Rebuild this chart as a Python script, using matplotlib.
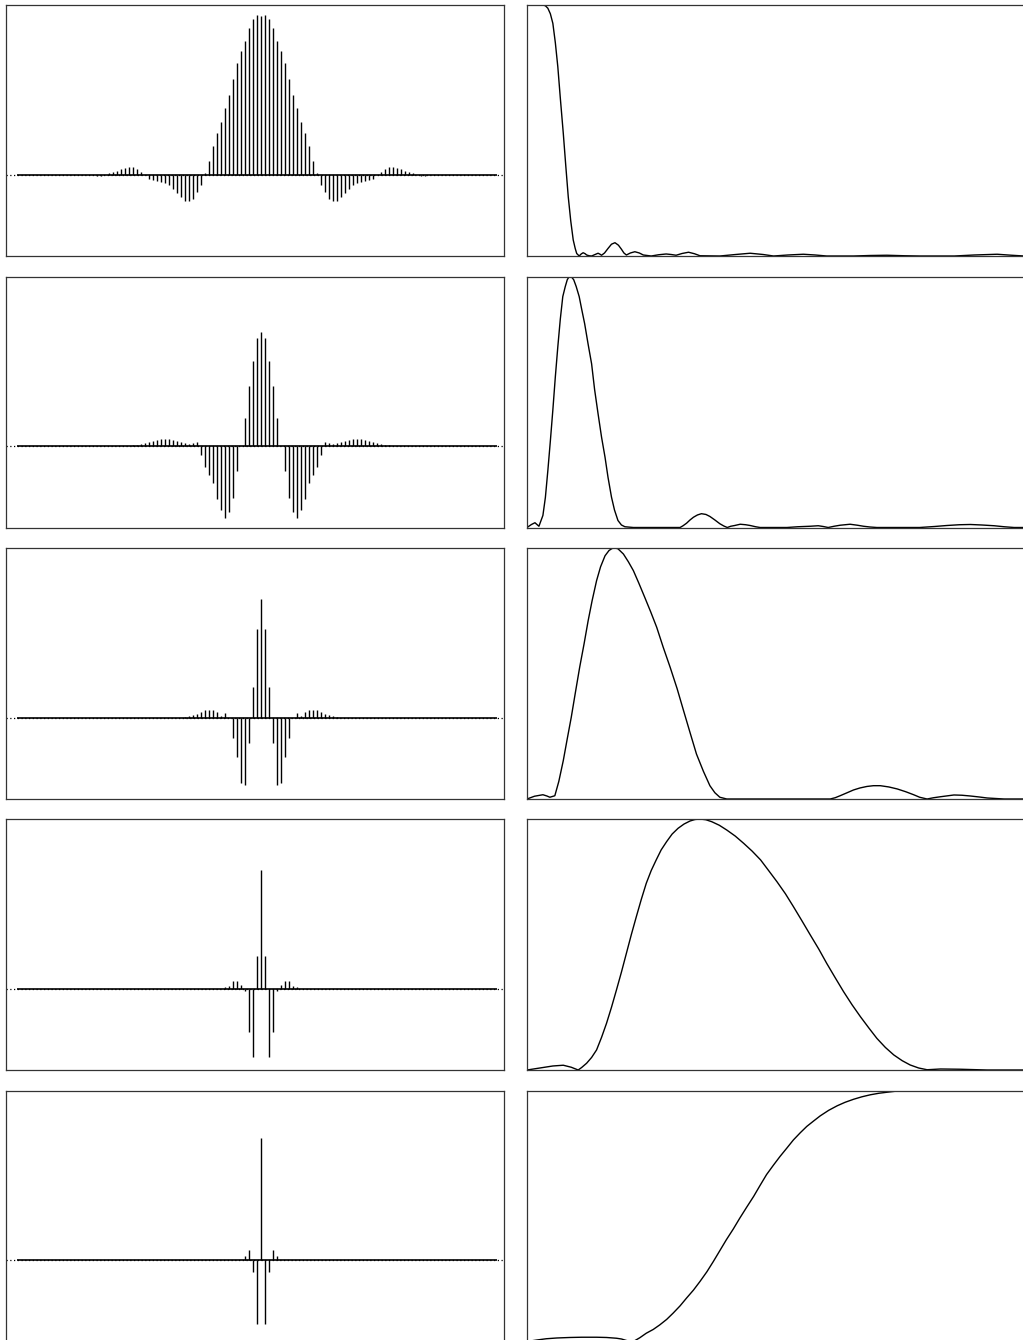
import numpy as np
import matplotlib
matplotlib.use("Agg")
import matplotlib.pyplot as plt

# ---- filter taps (left column), listed from k=-K..K around the centre tap ----
taps1 = [-0.004, -0.006, -0.006, 0.0, 0.008, 0.017, 0.025, 0.033, 0.042, 0.046, 0.046,
         0.033, 0.017, 0.0, -0.027, -0.033, -0.038, -0.044, -0.052, -0.065, -0.09,
         -0.117, -0.138, -0.163, -0.163, -0.153, -0.111, -0.065, 0.008, 0.086, 0.182,
         0.259, 0.332, 0.415, 0.499, 0.599, 0.697, 0.775, 0.837, 0.919, 0.973, 1.0,
         0.996,
         1.0, 0.973, 0.919, 0.837, 0.775, 0.697, 0.599, 0.499, 0.415, 0.332, 0.259,
         0.182, 0.086, 0.008, -0.065, -0.111, -0.153, -0.163, -0.163, -0.138, -0.117,
         -0.09, -0.065, -0.052, -0.044, -0.038, -0.033, -0.027, 0.0, 0.017, 0.033,
         0.046, 0.046, 0.042, 0.033, 0.025, 0.017, 0.008, 0.0, -0.006, -0.006, -0.004]

taps2 = [0.002, 0.003, 0.006, 0.01, 0.013, 0.02, 0.027, 0.035, 0.04, 0.044, 0.044,
         0.044, 0.04, 0.035, 0.027, 0.02, 0.013, 0.023, 0.025, -0.054, -0.127, -0.18,
         -0.232, -0.332, -0.399, -0.447, -0.415, -0.326, -0.157, 0.0, 0.177, 0.376,
         0.534, 0.676,
         0.714,
         0.676, 0.534, 0.376, 0.177, 0.0, -0.157, -0.326, -0.415, -0.447, -0.399,
         -0.332, -0.232, -0.18, -0.127, -0.054, 0.025, 0.023, 0.013, 0.02, 0.027,
         0.035, 0.04, 0.044, 0.044, 0.044, 0.04, 0.035, 0.027, 0.02, 0.013, 0.01,
         0.006, 0.003, 0.002]

taps3 = [0.003, 0.01, 0.015, 0.021, 0.033, 0.046, 0.05, 0.046, 0.035, 0.01, 0.027,
         0.0, -0.125, -0.244, -0.407, -0.424, -0.161, 0.19, 0.557,
         0.741,
         0.557, 0.19, -0.161, -0.424, -0.407, -0.244, -0.125, 0.0, 0.027, 0.01,
         0.035, 0.046, 0.05, 0.046, 0.033, 0.021, 0.015, 0.01, 0.003]

taps4 = [0.008, 0.017, 0.046, 0.046, 0.021, -0.015, -0.273, -0.426, 0.202,
         0.741,
         0.202, -0.426, -0.273, -0.015, 0.021, 0.046, 0.046, 0.017, 0.008]

taps5 = [0.029, 0.061, -0.075, -0.401,
         0.764,
         -0.401, -0.075, 0.061, 0.029]

left_taps = [taps1, taps2, taps3, taps4, taps5]
n_first, n_last = -61, 59

# ---- magnitude responses (right column): (fraction of Nyquist, |H|) ----
resp1 = [(0, 1), (0.032, 1), (0.037, 0.997), (0.042, 0.987), (0.047, 0.965),
         (0.052, 0.927), (0.057, 0.85), (0.062, 0.754), (0.067, 0.63), (0.073, 0.489),
         (0.078, 0.36), (0.083, 0.236), (0.088, 0.14), (0.093, 0.064), (0.097, 0.03),
         (0.1, 0.01), (0.105, 0), (0.109, 0.008), (0.113, 0.013), (0.117, 0.009),
         (0.12, 0.004), (0.125, 0.001), (0.13, 0), (0.137, 0.006), (0.143, 0.011),
         (0.147, 0.007), (0.15, 0.003), (0.156, 0.012), (0.163, 0.03), (0.17, 0.047),
         (0.177, 0.053), (0.184, 0.043), (0.19, 0.027), (0.195, 0.012), (0.2, 0.004),
         (0.208, 0.012), (0.217, 0.017), (0.226, 0.012), (0.234, 0.004), (0.25, 0),
         (0.265, 0.005), (0.28, 0.008), (0.29, 0.006), (0.3, 0.003), (0.312, 0.01),
         (0.325, 0.015), (0.337, 0.009), (0.348, 0.001), (0.388, 0), (0.42, 0.006),
         (0.449, 0.011), (0.475, 0.006), (0.496, 0), (0.525, 0.004), (0.556, 0.007),
         (0.58, 0.004), (0.603, 0), (0.657, 0), (0.69, 0.002), (0.724, 0.003),
         (0.76, 0.001), (0.79, 0), (0.86, 0), (0.9, 0.004), (0.946, 0.007),
         (0.975, 0.003), (1.0, 0)]

resp2 = [(0, 0), (0.009, 0.012), (0.016, 0.019), (0.024, 0.005), (0.032, 0.048),
         (0.037, 0.12), (0.042, 0.228), (0.047, 0.345), (0.052, 0.468), (0.057, 0.6),
         (0.062, 0.72), (0.067, 0.83), (0.072, 0.92), (0.077, 0.96), (0.081, 0.987),
         (0.084, 0.997), (0.087, 1.0), (0.09, 0.997), (0.094, 0.987), (0.099, 0.96),
         (0.105, 0.92), (0.11, 0.87), (0.116, 0.812), (0.123, 0.73), (0.13, 0.652),
         (0.136, 0.55), (0.143, 0.453), (0.15, 0.36), (0.157, 0.28), (0.163, 0.2),
         (0.17, 0.121), (0.176, 0.07), (0.183, 0.028), (0.19, 0.01), (0.197, 0.003),
         (0.214, 0), (0.308, 0), (0.314, 0.007), (0.321, 0.017), (0.328, 0.03),
         (0.335, 0.041), (0.343, 0.05), (0.351, 0.055), (0.36, 0.052), (0.368, 0.044),
         (0.378, 0.03), (0.388, 0.015), (0.396, 0.006), (0.403, 0), (0.41, 0.005),
         (0.418, 0.008), (0.429, 0.013), (0.44, 0.011), (0.449, 0.008), (0.46, 0.003),
         (0.469, 0), (0.523, 0), (0.545, 0.003), (0.57, 0.005), (0.586, 0.007),
         (0.596, 0.004), (0.606, 0), (0.618, 0.005), (0.63, 0.009), (0.65, 0.013),
         (0.665, 0.009), (0.677, 0.005), (0.69, 0.002), (0.704, 0), (0.79, 0),
         (0.82, 0.004), (0.845, 0.008), (0.87, 0.011), (0.892, 0.012), (0.915, 0.01),
         (0.94, 0.007), (0.96, 0.003), (0.98, 0), (1.0, 0)]

resp3 = [(0, 0), (0.015, 0.011), (0.032, 0.017), (0.04, 0.012), (0.046, 0.007),
         (0.056, 0.013), (0.064, 0.07), (0.073, 0.153), (0.081, 0.24), (0.089, 0.325),
         (0.097, 0.42), (0.106, 0.525), (0.115, 0.62), (0.123, 0.71), (0.131, 0.79),
         (0.14, 0.87), (0.148, 0.925), (0.157, 0.969), (0.165, 0.99), (0.171, 0.998),
         (0.177, 1.0), (0.183, 0.997), (0.194, 0.976), (0.204, 0.945), (0.214, 0.91),
         (0.225, 0.86), (0.237, 0.803), (0.249, 0.745), (0.261, 0.684), (0.274, 0.605),
         (0.288, 0.525), (0.302, 0.44), (0.315, 0.352), (0.328, 0.265), (0.341, 0.179),
         (0.355, 0.11), (0.368, 0.053), (0.378, 0.025), (0.388, 0.007), (0.402, 0),
         (0.61, 0), (0.62, 0.005), (0.63, 0.013), (0.643, 0.024), (0.657, 0.036),
         (0.67, 0.044), (0.684, 0.05), (0.697, 0.053), (0.711, 0.053), (0.728, 0.048),
         (0.745, 0.04), (0.762, 0.029), (0.778, 0.017), (0.79, 0.007), (0.805, 0),
         (0.818, 0.005), (0.832, 0.009), (0.859, 0.016), (0.875, 0.015), (0.892, 0.012),
         (0.91, 0.008), (0.926, 0.004), (0.96, 0), (1.0, 0)]

resp4 = [(0, 0), (0.026, 0.008), (0.052, 0.016), (0.073, 0.019), (0.089, 0.011),
         (0.103, 0), (0.11, 0.01), (0.12, 0.027), (0.13, 0.05), (0.14, 0.08),
         (0.15, 0.13), (0.16, 0.186), (0.17, 0.25), (0.18, 0.319), (0.19, 0.39),
         (0.2, 0.465), (0.21, 0.54), (0.22, 0.611), (0.23, 0.68), (0.24, 0.744),
         (0.25, 0.795), (0.26, 0.837), (0.27, 0.877), (0.281, 0.91), (0.292, 0.94),
         (0.304, 0.963), (0.316, 0.98), (0.328, 0.992), (0.338, 0.998), (0.348, 1.0),
         (0.36, 0.997), (0.372, 0.989), (0.387, 0.975), (0.402, 0.956), (0.419, 0.932),
         (0.436, 0.903), (0.453, 0.872), (0.47, 0.837), (0.486, 0.795), (0.503, 0.75),
         (0.52, 0.702), (0.536, 0.651), (0.553, 0.595), (0.57, 0.538), (0.587, 0.482),
         (0.603, 0.425), (0.62, 0.368), (0.637, 0.312), (0.654, 0.26), (0.671, 0.212),
         (0.688, 0.167), (0.704, 0.126), (0.721, 0.09), (0.738, 0.06), (0.755, 0.037),
         (0.771, 0.02), (0.788, 0.008), (0.805, 0.001), (0.832, 0.004), (0.872, 0.003),
         (0.926, 0), (1.0, 0)]

resp5 = [(0, 0), (0.02, 0.006), (0.039, 0.011), (0.06, 0.014), (0.086, 0.016),
         (0.11, 0.017), (0.14, 0.017), (0.16, 0.016), (0.18, 0.013), (0.19, 0.01),
         (0.2, 0.004), (0.207, 0.001), (0.214, 0), (0.227, 0.015), (0.24, 0.033),
         (0.254, 0.048), (0.267, 0.066), (0.281, 0.088), (0.294, 0.113), (0.308, 0.142),
         (0.321, 0.173), (0.335, 0.205), (0.348, 0.239), (0.362, 0.278), (0.375, 0.319),
         (0.388, 0.362), (0.401, 0.405), (0.415, 0.448), (0.428, 0.491), (0.442, 0.535),
         (0.456, 0.578), (0.469, 0.622), (0.482, 0.665), (0.496, 0.703), (0.509, 0.737),
         (0.523, 0.771), (0.536, 0.803), (0.55, 0.832), (0.563, 0.857), (0.577, 0.879),
         (0.59, 0.899), (0.607, 0.921), (0.624, 0.939), (0.64, 0.953), (0.657, 0.965),
         (0.674, 0.975), (0.691, 0.983), (0.708, 0.989), (0.724, 0.993), (0.741, 0.997),
         (0.758, 0.999), (0.79, 1.0), (1.0, 1.0)]

right_resp = [resp1, resp2, resp3, resp4, resp5]

W, H = 1023, 1340
fig = plt.figure(figsize=(W / 100, H / 100), dpi=100)

row_tops = [5, 276.5, 548, 819, 1090.5]
ax_h = 251
cols = [(6, 498), (527, 497)]


def add_px_axes(x0, y0, w, h):
    return fig.add_axes([x0 / W, 1 - (y0 + h) / H, w / W, h / H])


for i in range(5):
    # left: filter taps
    ax = add_px_axes(cols[0][0], row_tops[i], cols[0][1], ax_h)
    t = np.array(left_taps[i])
    K = (len(t) - 1) // 2
    n = np.arange(-K, K + 1)
    ax.axhline(0, color='k', lw=0.9, ls=(0, (1, 2)))
    ax.hlines(0, n_first, n_last, color='k', lw=1.2)
    ax.vlines(n, 0, t, color='k', lw=1.0)
    ax.set_xlim(-63.75, 60.75)
    ax.set_ylim(-0.509, 1.063)

    # right: magnitude response
    f, m = zip(*right_resp[i])
    ax2 = add_px_axes(cols[1][0], row_tops[i], cols[1][1], ax_h)
    ax2.plot(f, m, color='k', lw=1.0)
    ax2.set_xlim(0, 1)
    ax2.set_ylim(0, 1)

for ax in fig.axes:
    ax.set_xticks([])
    ax.set_yticks([])
    for sp in ax.spines.values():
        sp.set_linewidth(0.9)
        sp.set_color('#333333')

fig.savefig("out.png", dpi=100)
